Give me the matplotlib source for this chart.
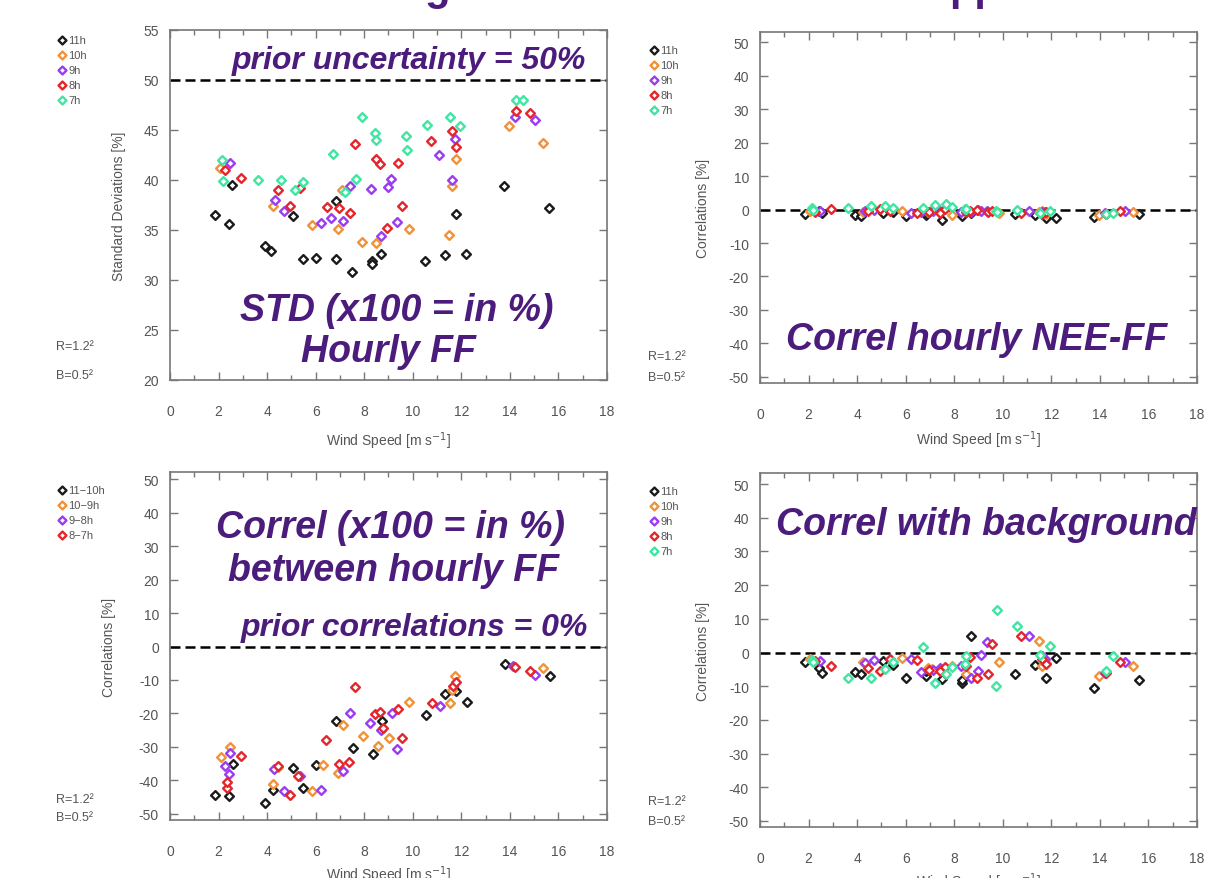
import matplotlib
matplotlib.use('Agg')
import matplotlib.pyplot as plt
from matplotlib.ticker import MultipleLocator

plt.rcParams['font.family'] = ['Liberation Sans', 'DejaVu Sans']
plt.rcParams['axes.unicode_minus'] = False

# ---- data ----
hours = ['11h', '10h', '9h', '8h', '7h']
pairs = ['11\u221210h', '10\u22129h', '9\u22128h', '8\u22127h']
colors = ['#1b1b1b', '#f0923a', '#9a3cf0', '#e4262c', '#3ee6a2']

# wind speed per hour
ws_11h = [1.85, 2.43, 2.57, 3.91, 4.18, 5.07, 5.49, 6.0, 6.83, 6.83, 7.48, 8.3, 8.33, 8.71, 10.52, 11.32, 11.8, 12.21, 13.76, 15.61]
ws_10h = [2.06, 4.25, 5.83, 6.93, 7.07, 7.89, 8.5, 9.84, 11.5, 11.62, 11.8, 13.95, 15.37]
ws_9h = [2.47, 4.32, 4.71, 6.21, 6.65, 7.13, 7.41, 8.27, 8.71, 8.99, 9.12, 9.33, 11.07, 11.62, 11.73, 14.2, 15.04]
ws_8h = [2.26, 2.91, 4.46, 4.94, 5.35, 6.45, 6.97, 7.41, 7.61, 8.48, 8.64, 8.92, 9.4, 9.57, 10.76, 11.62, 11.8, 14.24, 14.81]
ws_7h = [2.13, 2.19, 3.63, 4.59, 5.14, 5.46, 6.72, 7.2, 7.65, 7.92, 8.44, 8.5, 9.74, 9.78, 10.59, 11.52, 11.93, 14.26, 14.54]

# standard deviations [%] hourly FF
std_11h = [36.5, 35.6, 39.5, 33.4, 32.9, 36.4, 32.1, 32.2, 32.1, 37.9, 30.8, 31.9, 31.6, 32.6, 31.9, 32.5, 36.6, 32.6, 39.4, 37.2]
std_10h = [41.2, 37.4, 35.5, 35.1, 39.0, 33.8, 33.7, 35.1, 34.5, 39.4, 42.1, 45.4, 43.7]
std_9h = [41.7, 38.0, 36.9, 35.7, 36.2, 35.9, 39.4, 39.1, 34.4, 39.3, 40.1, 35.8, 42.5, 40.0, 44.1, 46.3, 46.0]
std_8h = [41.0, 40.2, 39.0, 37.4, 39.2, 37.3, 37.2, 36.7, 43.6, 42.1, 41.6, 35.2, 41.7, 37.4, 43.9, 44.9, 43.3, 46.9, 46.7]
std_7h = [42.0, 39.9, 40.0, 40.0, 39.0, 39.8, 42.6, 38.8, 40.1, 46.3, 44.7, 44.0, 44.4, 43.0, 45.5, 46.3, 45.4, 48.0, 48.0]

# correlations NEE-FF [%]
nee_11h = [-1.4, -0.5, -1.0, -1.6, -1.9, -1.0, -0.8, -1.9, -1.7, -0.6, -3.0, -1.7, -2.0, -1.0, -1.2, -1.7, -2.6, -2.6, -2.2, -1.2]
nee_10h = [-0.5, -0.8, -0.3, -0.6, -0.2, -1.5, -0.4, -0.9, -0.7, -0.5, -1.2, -1.5, -0.8]
nee_9h = [-0.3, -0.5, -0.2, -1.0, -0.8, -0.3, -0.5, -0.6, -0.8, -0.2, -0.4, -0.3, -0.5, -0.8, -0.6, -1.0, -0.4]
nee_8h = [-0.8, 0.2, -0.5, 0.1, -0.3, -0.9, -0.6, -1.0, 0.3, -0.7, -0.4, -0.2, -0.6, -0.3, -1.0, -1.2, -0.8, -1.2, -0.5]
nee_7h = [0.5, -0.2, 0.6, 0.9, 1.0, 0.4, 0.5, 1.2, 1.5, 0.8, 0.3, 0.2, -0.5, -0.8, 0.0, -1.0, -0.5, -1.3, -1.0]

# correlations with background [%]
bg_11h = [-2.7, -4.5, -6.1, -5.8, -6.3, -2.5, -3.7, -7.5, -7.0, -5.5, -8.0, -8.9, -8.3, 4.8, -6.3, -3.8, -7.7, -1.7, -10.4, -8.2]
bg_10h = [-2.0, -2.7, -1.5, -4.5, -5.0, -4.0, -6.5, -2.8, 3.5, -4.0, -3.0, -7.0, -4.0]
bg_9h = [-2.5, -3.0, -2.3, -2.0, -5.8, -5.2, -4.5, -4.0, -7.5, -5.5, -0.8, 3.0, 5.0, -1.0, -2.0, -6.0, -2.8]
bg_8h = [-2.5, -4.0, -4.7, -5.5, -2.0, -2.1, -5.2, -5.5, -4.2, -4.0, -1.3, -7.7, -6.5, 2.5, 5.0, -2.0, -3.5, -6.2, -2.7]
bg_7h = [-2.2, -2.8, -7.7, -7.5, -5.0, -2.7, 1.5, -9.0, -6.5, -4.2, -3.5, -0.9, -10.0, 12.5, 8.0, -0.8, 2.0, -5.5, -1.0]

# correlations between consecutive hourly FF [%]
ws_11_10 = [1.85, 2.44, 2.58, 3.91, 4.26, 5.08, 5.49, 6.01, 6.84, 7.52, 8.35, 8.72, 10.54, 11.33, 11.8, 12.25, 13.8, 15.65]
cor_11_10 = [-44.2, -44.7, -35.2, -46.7, -42.7, -36.2, -42.2, -35.5, -22.3, -30.2, -32.0, -22.3, -20.6, -14.1, -13.3, -16.6, -5.1, -8.9]
ws_10_9 = [2.09, 2.47, 4.26, 4.46, 5.83, 6.32, 6.93, 7.11, 7.94, 8.58, 9.03, 9.86, 11.53, 11.6, 11.74, 15.38]
cor_10_9 = [-32.9, -29.9, -41.0, -35.9, -43.2, -35.5, -37.7, -23.3, -26.6, -29.6, -27.3, -16.6, -17.0, -13.0, -8.9, -6.4]
ws_9_8 = [2.27, 2.44, 2.47, 4.3, 4.71, 5.35, 6.22, 7.14, 7.41, 8.24, 8.7, 9.13, 9.33, 11.12, 14.14, 15.03]
cor_9_8 = [-35.7, -38.2, -31.7, -36.5, -43.2, -38.7, -42.9, -37.2, -20.0, -22.8, -24.8, -20.0, -30.7, -17.8, -5.9, -8.4]
ws_8_7 = [2.36, 2.36, 2.91, 4.46, 4.94, 5.28, 6.42, 6.97, 7.39, 7.62, 8.44, 8.64, 8.79, 9.4, 9.54, 10.78, 11.67, 11.8, 14.21, 14.83]
cor_8_7 = [-42.2, -40.5, -32.7, -35.7, -44.2, -38.8, -28.0, -35.2, -34.5, -12.0, -20.3, -19.5, -24.3, -18.8, -27.3, -17.0, -11.8, -10.7, -6.1, -7.4]

ws_hours = [ws_11h, ws_10h, ws_9h, ws_8h, ws_7h]
ws_pairs = [ws_11_10, ws_10_9, ws_9_8, ws_8_7]

# ---- figure ----
W, H = 1222, 879
fig = plt.figure(figsize=(W / 100, H / 100), dpi=100)
purple = '#4b1c7c'
grey = '#555555'


def px_rect(l, r, t, b):
    return [l / W, 1 - b / H, (r - l) / W, (b - t) / H]


def fx(x):
    return x / W


def fy(y):
    return 1 - y / H


def style_axes(ax, ylim, ystep, ylabel, ylab_x, xlab_y):
    ax.set_xlim(0, 18)
    ax.set_ylim(*ylim)
    ax.xaxis.set_major_locator(MultipleLocator(2))
    ax.xaxis.set_minor_locator(MultipleLocator(1))
    ax.yaxis.set_major_locator(MultipleLocator(ystep))
    ax.tick_params(which='both', direction='in', top=True, right=True,
                   color='#777777', labelcolor=grey, labelsize=10, width=1)
    ax.tick_params(axis='x', which='major', length=6, pad=17)
    ax.tick_params(axis='x', which='minor', length=3.5)
    ax.tick_params(axis='y', which='major', length=6, pad=8)
    for s in ax.spines.values():
        s.set_color('#777777')
        s.set_linewidth(1.2)
    ax.set_ylabel(ylabel, fontsize=10, color=grey)
    ax.yaxis.set_label_coords(ylab_x, 0.5)
    ax.set_xlabel('Wind Speed [m s$^{-1}$]', fontsize=10, color=grey)
    ax.xaxis.set_label_coords(0.5, xlab_y)


def scatter_series(ax, xs, ys, labels, legend_xy):
    handles = []
    for x, y, c, lab in zip(xs, ys, colors, labels):
        h = ax.scatter(x, y, marker='D', s=20, facecolors='white', edgecolors=c,
                       linewidths=1.7, label=lab, zorder=3, clip_on=False)
        handles.append(h)
    ax.legend(handles=handles, loc='upper left',
              bbox_to_anchor=(fx(legend_xy[0]), fy(legend_xy[1])),
              bbox_transform=fig.transFigure, frameon=False, fontsize=8,
              labelcolor=grey, handletextpad=0.1, labelspacing=0.45,
              borderpad=0, borderaxespad=0, handlelength=1.0, markerscale=0.9)


def side_notes(y1, y2, x=56):
    fig.text(fx(x), fy(y1), 'R=1.2\u00b2', fontsize=9, color=grey, va='center')
    fig.text(fx(x), fy(y2), 'B=0.5\u00b2', fontsize=9, color=grey, va='center')


def big_text(x, y, s, size):
    fig.text(fx(x), fy(y), s, ha='center', va='center', fontsize=size,
             color=purple, fontweight='bold', fontstyle='italic')


# panel 1: standard deviations
ax1 = fig.add_axes(px_rect(170, 607, 31, 381))
style_axes(ax1, (20, 55), 5, 'Standard Deviations [%]', -0.1, -0.14)
ax1.axhline(50, color='black', ls=(0, (4, 2)), lw=1.8, zorder=2)
scatter_series(ax1, ws_hours, [std_11h, std_10h, std_9h, std_8h, std_7h], hours, (56, 36))
side_notes(347, 376)

# panel 2: correlations NEE-FF
ax2 = fig.add_axes(px_rect(760, 1197, 33, 384))
style_axes(ax2, (-51.8, 53), 10, 'Correlations [%]', -0.114, -0.13)
ax2.axhline(0, color='black', ls=(0, (4, 2)), lw=1.8, zorder=2)
scatter_series(ax2, ws_hours, [nee_11h, nee_10h, nee_9h, nee_8h, nee_7h], hours, (648, 46))
side_notes(357, 378, x=648)

# panel 3: correlations between hourly FF
ax3 = fig.add_axes(px_rect(170, 607, 473, 821))
style_axes(ax3, (-51.8, 52.1), 10, 'Correlations [%]', -0.124, -0.125)
ax3.axhline(0, color='black', ls=(0, (4, 2)), lw=1.8, zorder=2)
scatter_series(ax3, ws_pairs, [cor_11_10, cor_10_9, cor_9_8, cor_8_7], pairs, (56, 486))
side_notes(800, 818)

# panel 4: correlations with background
ax4 = fig.add_axes(px_rect(760, 1197, 474, 828))
style_axes(ax4, (-51.8, 53.3), 10, 'Correlations [%]', -0.114, -0.122)
ax4.axhline(0, color='black', ls=(0, (4, 2)), lw=1.8, zorder=2)
scatter_series(ax4, ws_hours, [bg_11h, bg_10h, bg_9h, bg_8h, bg_7h], hours, (648, 487))
side_notes(802, 822, x=648)

# purple annotations
big_text(409, 61, 'prior uncertainty = 50%', 23)
big_text(397, 311, 'STD (x100 = in %)', 27)
big_text(388, 352, 'Hourly FF', 27)
big_text(977, 340, 'Correl hourly NEE-FF', 27)
big_text(390, 528, 'Correl (x100 = in %)', 27)
big_text(394, 571, 'between hourly FF', 27)
big_text(414, 628, 'prior correlations = 0%', 23)
big_text(986, 525, 'Correl with background', 27)

# cut-off title fragments at the very top
fig.text(fx(437), 1.0, 'g', ha='center', va='baseline', fontsize=30,
         color=purple, fontweight='bold')
fig.text(fx(975), 1.0, 'pp', ha='center', va='baseline', fontsize=30,
         color=purple, fontweight='bold')

fig.savefig('out.png', dpi=100)
